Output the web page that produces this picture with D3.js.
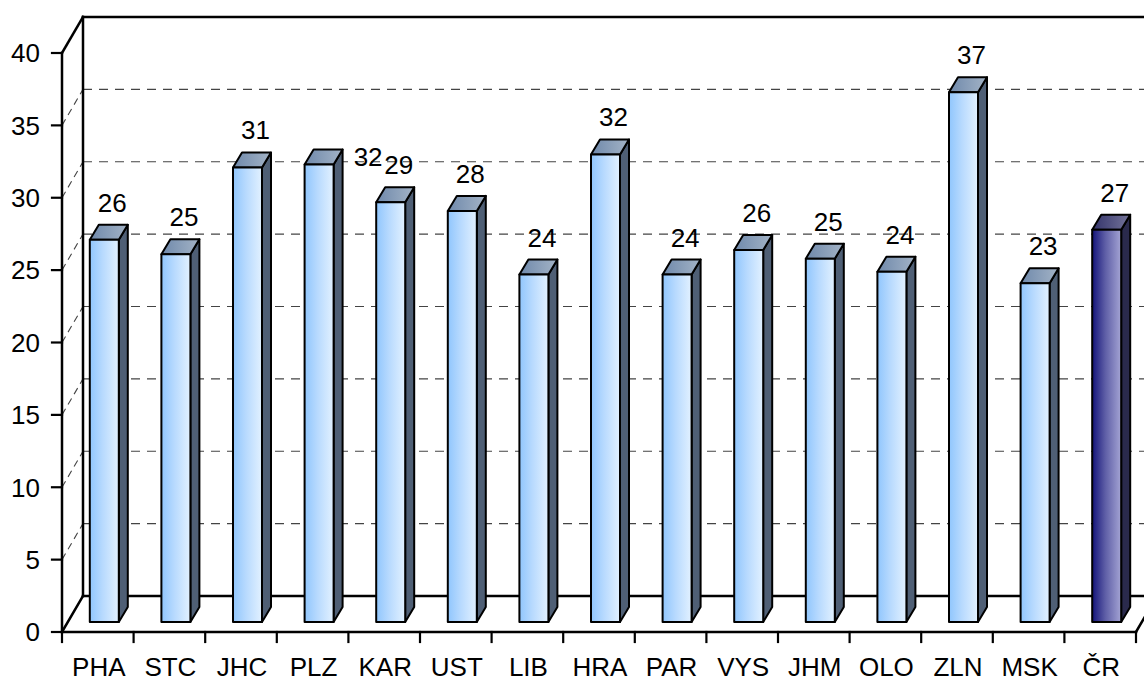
<!DOCTYPE html>
<html>
<head>
<meta charset="utf-8">
<script src="https://cdn.jsdelivr.net/npm/d3@7"></script>
<style>
  html, body { margin: 0; padding: 0; background: #fff; }
  svg { display: block; }
  text { font-family: "Liberation Sans", Arial, sans-serif; fill: #000; }
</style>
</head>
<body>
<svg id="chart" width="1144" height="682"></svg>
<script>
// ---- data ----
const categories = ["PHA","STC","JHC","PLZ","KAR","UST","LIB","HRA","PAR","VYS","JHM","OLO","ZLN","MSK","ČR"];
const values = [26.4, 25.4, 31.4, 31.6, 29.0, 28.4, 24.0, 32.3, 24.0, 25.7, 25.1, 24.2, 36.6, 23.4, 27.1];
const yTicks = [0, 5, 10, 15, 20, 25, 30, 35, 40];
const highlighted = ["ČR"];

// ---- layout ----
const svg = d3.select("#chart");
const frontLeft = 62, frontRight = 1136;
const floorY = 632, topY = 53;
const DX = 21, DY = -36;            // wall depth
const barOffX = 6.5, barOffY = -10; // bar front-face position within depth
const barDX = 9, barDY = -15;       // bar depth
const barW = 29;
const fs = "26px";

const x = d3.scaleBand().domain(categories).range([frontLeft, frontRight]).padding(0);
const y = d3.scaleLinear().domain([0, 40]).range([floorY, topY]);

// gradients
const defs = svg.append("defs");
function grad(id, stops) {
  const gr = defs.append("linearGradient").attr("id", id)
    .attr("x1", 0).attr("x2", 1).attr("y1", 0).attr("y2", 0);
  stops.forEach(s => gr.append("stop").attr("offset", s[0]).attr("stop-color", s[1]));
}
grad("frontN", [[0, "#90c6fd"], [0.45, "#b8dafe"], [1, "#e2f1ff"]]);
grad("topN", [[0, "#6f89ab"], [1, "#a3b3c6"]]);
grad("frontH", [[0, "#14147a"], [0.45, "#5e5ea6"], [1, "#a4a4d4"]]);
grad("topH", [[0, "#33336a"], [1, "#75759a"]]);
const sideN = "#4f5f75", sideH = "#2a2a4c";

const g = svg.append("g");

// back wall gridlines (dashed) and side-wall diagonals
yTicks.filter(t => t > 0 && t < 40).forEach(t => {
  const yf = y(t);
  g.append("line").attr("x1", frontLeft + DX).attr("x2", frontRight + DX)
    .attr("y1", yf + DY).attr("y2", yf + DY)
    .attr("stroke", "#444").attr("stroke-width", 1.2).attr("stroke-dasharray", "9,7");
  g.append("line").attr("x1", frontLeft).attr("x2", frontLeft + DX)
    .attr("y1", yf).attr("y2", yf + DY)
    .attr("stroke", "#444").attr("stroke-width", 1.1).attr("stroke-dasharray", "7,5");
});

function solid(x1, y1, x2, y2, w) {
  g.append("line").attr("x1", x1).attr("y1", y1).attr("x2", x2).attr("y2", y2)
    .attr("stroke", "#000").attr("stroke-width", w || 2.5).attr("stroke-linecap", "square");
}
// back wall left edge, top, floor back line
solid(frontLeft + DX, y(40) + DY, frontLeft + DX, y(0) + DY);
solid(frontLeft + DX, y(40) + DY, frontRight + DX, y(40) + DY);
solid(frontLeft + DX, y(0) + DY, frontRight + DX, y(0) + DY);
// side wall top and bottom diagonals
solid(frontLeft, y(40), frontLeft + DX, y(40) + DY);
solid(frontLeft, y(0), frontLeft + DX, y(0) + DY);
// floor right diagonal
solid(frontRight, y(0), frontRight + DX, y(0) + DY);

// bars
const bars = g.append("g");
categories.forEach((c, i) => {
  const v = values[i];
  const hi = highlighted.includes(c);
  const cx = x(c) + x.bandwidth() / 2 + barOffX;
  const x0 = cx - barW / 2, x1 = cx + barW / 2;
  const yb = y(0) + barOffY, yt = y(v) + barOffY;
  const bg = bars.append("g").attr("stroke", "#000").attr("stroke-width", 2).attr("stroke-linejoin", "round");
  bg.append("path").attr("d", d3.line()([[x1, yt], [x1 + barDX, yt + barDY], [x1 + barDX, yb + barDY], [x1, yb]]) + "Z")
    .attr("fill", hi ? sideH : sideN);
  bg.append("path").attr("d", d3.line()([[x0, yt], [x0 + barDX, yt + barDY], [x1 + barDX, yt + barDY], [x1, yt]]) + "Z")
    .attr("fill", hi ? "url(#topH)" : "url(#topN)");
  bg.append("rect").attr("x", x0).attr("y", yt).attr("width", barW).attr("height", yb - yt)
    .attr("fill", hi ? "url(#frontH)" : "url(#frontN)");
});

// front axes
solid(frontLeft, y(40), frontLeft, y(0));
solid(frontLeft, y(0), frontRight, y(0));

// y ticks and labels
yTicks.forEach(t => {
  solid(frontLeft - 10, y(t), frontLeft, y(t), 2.2);
  g.append("text").attr("x", 40).attr("y", y(t)).attr("dy", "0.36em")
    .attr("text-anchor", "end").attr("font-size", fs).text(t);
});

// x ticks (category boundaries)
const bounds = categories.map(c => x(c)).concat([frontRight]);
bounds.forEach(bx => solid(bx, y(0), bx, y(0) + 10, 2.2));

// category labels
categories.forEach(c => {
  g.append("text").attr("x", x(c) + x.bandwidth() / 2 + 1).attr("y", 676)
    .attr("text-anchor", "middle").attr("font-size", fs).text(c);
});

// data labels
categories.forEach((c, i) => {
  const v = values[i];
  const cx = x(c) + x.bandwidth() / 2 + barOffX;
  const yt = y(v) + barOffY;
  let lx = cx + 8, ly = yt + barDY - 13;
  if (c === "PLZ") { lx = cx + 49; ly = yt + 1; }
  g.append("text").attr("x", lx).attr("y", ly)
    .attr("text-anchor", "middle").attr("font-size", fs).text(Math.round(v));
});
</script>
</body>
</html>
